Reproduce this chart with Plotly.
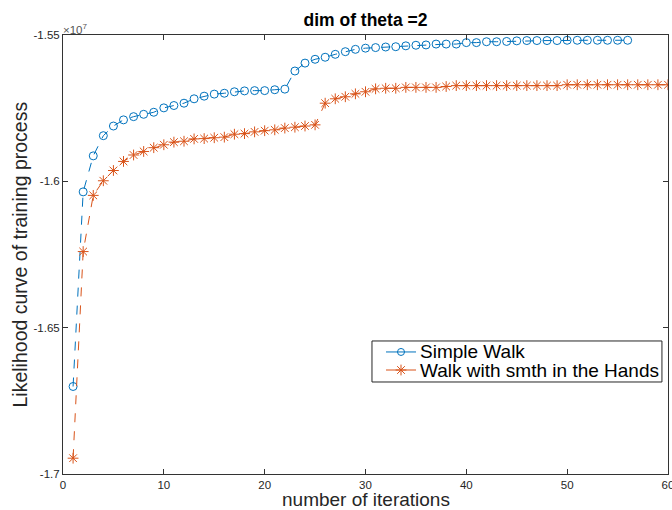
import plotly.graph_objects as go

iters_simple = list(range(1, 57))
simple_walk = [
    -1.6701, -1.6036, -1.5913, -1.5844, -1.5811, -1.5790, -1.5779, -1.5771, -1.5764, -1.5749,
    -1.5741, -1.5733, -1.5718, -1.5709, -1.5702, -1.5699, -1.5694, -1.5691, -1.5690, -1.5690,
    -1.5687, -1.5685, -1.5623, -1.5596, -1.5583, -1.5576, -1.5566, -1.5557, -1.5549, -1.5545,
    -1.5543, -1.5541, -1.5540, -1.5537, -1.5535, -1.5534, -1.5531, -1.5531, -1.5531, -1.5526,
    -1.5526, -1.5523, -1.5523, -1.5522, -1.5520, -1.5519, -1.5519, -1.5519, -1.5519, -1.5518,
    -1.5518, -1.5518, -1.5518, -1.5518, -1.5518, -1.5518,
]
simple_walk = [v * 1e7 for v in simple_walk]

iters_hands = list(range(1, 61))
walk_hands = [
    -1.6946, -1.6240, -1.6048, -1.5998, -1.5963, -1.5932, -1.5910, -1.5898, -1.5885, -1.5875,
    -1.5866, -1.5863, -1.5855, -1.5854, -1.5851, -1.5849, -1.5839, -1.5837, -1.5831, -1.5827,
    -1.5824, -1.5818, -1.5815, -1.5811, -1.5807, -1.5733, -1.5718, -1.5711, -1.5701, -1.5694,
    -1.5684, -1.5682, -1.5682, -1.5679, -1.5679, -1.5679, -1.5679, -1.5676, -1.5673, -1.5673,
    -1.5673, -1.5673, -1.5673, -1.5673, -1.5673, -1.5673, -1.5673, -1.5673, -1.5673, -1.5670,
    -1.5670, -1.5670, -1.5670, -1.5670, -1.5670, -1.5670, -1.5670, -1.5670, -1.5670, -1.5670,
]
walk_hands = [v * 1e7 for v in walk_hands]

series_names = ["Simple Walk", "Walk with smth in the Hands"]
y_tickvals = [-1.7e7, -1.65e7, -1.6e7, -1.55e7]
y_ticktext = ["-1.7", "-1.65", "-1.6", "-1.55"]
x_tickvals = [0, 10, 20, 30, 40, 50, 60]

BLUE = "#0072BD"
RED = "#D95319"
AX = "#333333"
TXT = "#262626"
FONT = "Liberation Sans, Arial, sans-serif"

fig = go.Figure()
fig.add_trace(go.Scatter(
    x=iters_simple, y=simple_walk, mode="lines+markers", name=series_names[0],
    line=dict(color=BLUE, width=1, dash="dash"),
    marker=dict(symbol="circle-open", size=8, color=BLUE, line=dict(width=1, color=BLUE)),
    showlegend=False,
))
fig.add_trace(go.Scatter(
    x=iters_hands, y=walk_hands, mode="lines+markers", name=series_names[1],
    line=dict(color=RED, width=1, dash="dash"),
    marker=dict(symbol="asterisk-open", size=9, color=RED, line=dict(width=1, color=RED)),
    showlegend=False,
))

# Compact MATLAB-style legend drawn on an overlay axis (0..1 over the plot area)
leg_x0, leg_x1, leg_y0, leg_y1 = 0.5107, 0.990, 0.2096, 0.303
row_y = [0.278, 0.2369]
line_x = [0.5339, 0.5835]
mark_x = 0.5587
text_x = 0.5868
colors = [BLUE, RED]
symbols = ["circle-open", "asterisk-open"]
sizes = [7, 9]

fig.add_shape(type="rect", xref="paper", yref="paper", x0=leg_x0, x1=leg_x1, y0=leg_y0, y1=leg_y1,
              line=dict(color="#262626", width=1), fillcolor="white", layer="below")
for i in range(2):
    fig.add_trace(go.Scatter(
        x=line_x, y=[row_y[i]] * 2, xaxis="x2", yaxis="y2",
        mode="lines", line=dict(color=colors[i], width=1), showlegend=False, hoverinfo="skip",
    ))
    fig.add_trace(go.Scatter(
        x=[mark_x], y=[row_y[i]], xaxis="x2", yaxis="y2", mode="markers",
        marker=dict(symbol=symbols[i], size=sizes[i], color=colors[i], line=dict(width=1, color=colors[i])),
        showlegend=False, hoverinfo="skip",
    ))
    fig.add_annotation(text=series_names[i], xref="paper", yref="paper", x=text_x, y=row_y[i],
                       xanchor="left", yanchor="middle", showarrow=False,
                       font=dict(size=19, color="black", family=FONT))

fig.update_layout(
    width=672, height=510,
    margin=dict(l=63, r=4, t=35, b=36, autoexpand=False),
    paper_bgcolor="white", plot_bgcolor="white",
    font=dict(family=FONT, color=TXT),
    title=dict(text="<b>dim of theta =2</b>", x=0.5, xanchor="center", xref="paper",
               y=1 - 20 / 510, yanchor="middle", font=dict(size=17.5, color="black")),
    xaxis=dict(
        range=[0, 60], tickvals=x_tickvals, ticks="inside", ticklen=5, tickcolor=AX,
        showline=True, linecolor=AX, linewidth=1, mirror="ticks", showgrid=False, zeroline=False,
        tickfont=dict(size=11.5, color=TXT), ticklabeloverflow="allow", automargin=False,
    ),
    yaxis=dict(
        range=[-1.7e7, -1.55e7], tickvals=y_tickvals, ticktext=y_ticktext, ticks="inside",
        ticklen=5, tickcolor=AX, showline=True, linecolor=AX, linewidth=1, mirror="ticks",
        showgrid=False, zeroline=False, tickfont=dict(size=11.5, color=TXT),
        ticklabeloverflow="allow", automargin=False,
    ),
    xaxis2=dict(overlaying="x", range=[0, 1], visible=False, fixedrange=True),
    yaxis2=dict(overlaying="y", range=[0, 1], visible=False, fixedrange=True),
    showlegend=False,
)

fig.add_annotation(
    text="number of iterations", xref="paper", yref="paper", x=0.5, y=(474 - 499) / 439,
    xanchor="center", yanchor="middle", showarrow=False, font=dict(size=19, color=TXT),
)
fig.add_annotation(
    text="Likelihood curve of training process", xref="paper", yref="paper",
    x=(19 - 63) / 605, y=0.5, xanchor="center", yanchor="middle", textangle=-90,
    showarrow=False, font=dict(size=19.5, color=TXT),
)
fig.add_annotation(
    text="×10<sup>7</sup>", xref="paper", yref="paper", x=0, y=1.0,
    xanchor="left", yanchor="bottom", showarrow=False,
    font=dict(size=11.5, color="#555555"), yshift=-3, xshift=-2,
)

fig.write_html("out.html")
